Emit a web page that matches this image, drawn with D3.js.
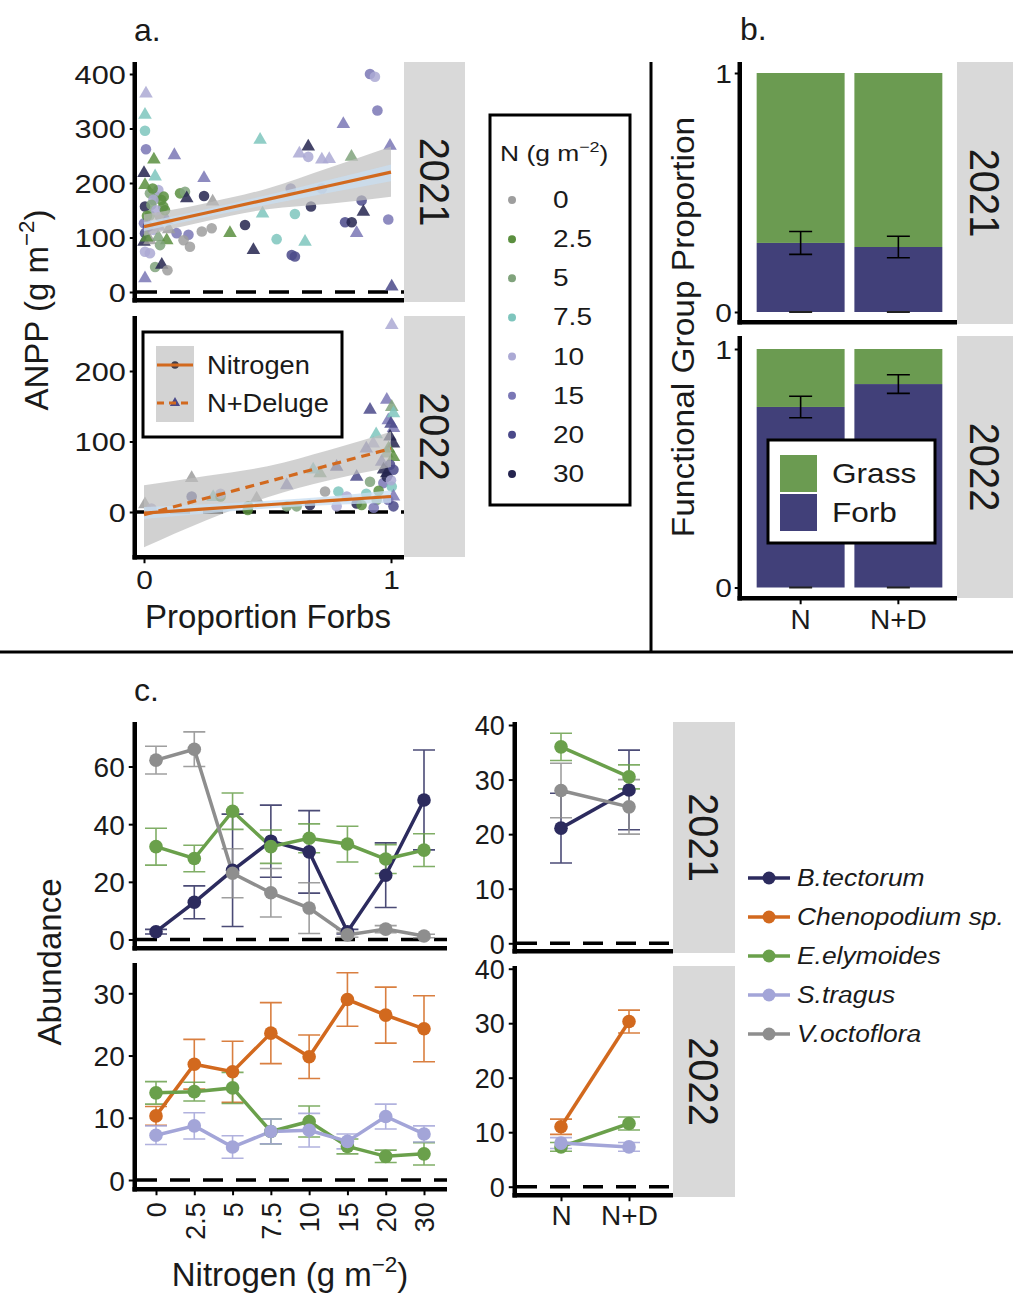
<!DOCTYPE html>
<html><head><meta charset="utf-8">
<script src="https://cdn.jsdelivr.net/npm/d3@7"></script>
<style>
html,body{margin:0;padding:0;background:#fff;}
svg{display:block;font-family:"Liberation Sans",Arial,sans-serif;}
</style></head><body>
<svg id="fig" width="1013" height="1293"></svg>
<script>
// ================= data =================
// nitrogen addition levels (g m-2) and their colours
const nLevels = ['0', '2.5', '5', '7.5', '10', '15', '20', '30'];
const nColours = ['#9e9e9e', '#5b8f3f', '#80a37c', '#7ec5bd', '#aba9d4', '#7a77b5', '#4a4989', '#25244f'];

// ANPP against proportion of forbs: [proportion forbs, ANPP, N level, treatment]
// treatment 'N' = Nitrogen (circle), 'D' = N+Deluge (triangle)
const anpp2021 = [
  [0.008,364,'10','D'],[0.004,325,'7.5','D'],[0.004,296,'7.5','N'],[0.008,262,'15','N'],
  [0.123,251,'15','D'],[0.040,243,'2.5','D'],[0.000,218,'30','D'],[0.045,212,'7.5','D'],
  [0.004,196,'2.5','D'],[0.243,209,'15','D'],[0.146,181,'2.5','N'],[0.166,184,'5','N'],
  [0.173,172,'30','D'],[0.243,176,'30','N'],[0.278,166,'0','D'],[0.004,157,'30','N'],
  [0.024,181,'5','N'],[0.050,175,'5','N'],[0.070,169,'2.5','N'],[0.078,157,'2.5','N'],
  [0.038,169,'10','N'],[0.058,187,'10','N'],[0.024,141,'5','N'],[0.000,126,'15','N'],
  [0.065,138,'0','N'],[0.092,132,'15','D'],[0.004,108,'20','N'],[0.038,114,'10','N'],
  [0.000,92,'30','D'],[0.024,95,'0','D'],[0.058,101,'5','D'],[0.092,95,'2.5','D'],
  [0.132,108,'15','N'],[0.180,105,'15','N'],[0.160,95,'0','N'],[0.186,83,'0','N'],
  [0.234,111,'0','N'],[0.274,117,'0','N'],[0.348,108,'2.5','D'],[0.409,123,'30','N'],
  [0.443,77,'30','D'],[0.470,279,'7.5','D'],[0.480,144,'7.5','D'],[0.004,74,'10','N'],
  [0.024,71,'10','N'],[0.045,46,'5','N'],[0.072,50,'30','D'],[0.095,40,'0','N'],
  [0.004,25,'15','D'],[0.016,120,'20','N'],[0.065,86,'5','N'],[0.012,140,'2.5','N'],
  [0.030,160,'5','N'],[0.050,150,'10','N'],[0.085,150,'2.5','N'],[0.020,120,'15','D'],
  [0.060,120,'10','D'],[0.100,115,'0','D'],[0.010,100,'2.5','D'],[0.035,190,'2.5','N'],
  [0.080,175,'2.5','N'],
  [0.915,400,'15','N'],[0.935,395,'10','N'],[0.945,333,'15','N'],[0.807,308,'15','D'],
  [0.665,267,'30','D'],[0.629,254,'10','D'],[0.665,248,'10','N'],[0.720,243,'10','D'],
  [0.750,244,'10','D'],[0.840,248,'5','D'],[0.996,268,'15','D'],[0.594,190,'15','N'],
  [0.720,190,'15','N'],[0.676,157,'30','N'],[0.611,143,'7.5','N'],[0.881,168,'20','N'],
  [0.888,147,'30','D'],[0.814,128,'20','N'],[0.841,128,'30','N'],[0.861,108,'15','D'],
  [0.989,133,'15','N'],[0.537,97,'7.5','N'],[0.652,92,'7.5','D'],[0.598,68,'20','N'],
  [0.611,65,'20','N'],[1.003,10,'20','D']
];
const anpp2022 = [
  [1.003,265,'10','D'],[0.983,159,'15','D'],[0.915,145,'20','D'],[1.003,149,'5','D'],
  [0.989,130,'15','D'],[1.010,140,'7.5','D'],[1.010,119,'15','D'],[0.996,107,'30','D'],
  [1.010,97,'30','D'],[0.928,97,'10','D'],[0.900,90,'15','D'],[0.983,83,'5','D'],
  [1.010,78,'2.5','D'],[0.962,71,'15','D'],[0.996,67,'20','N'],[0.983,55,'30','D'],
  [1.010,60,'20','N'],[0.861,50,'20','D'],[0.915,43,'5','N'],[0.969,41,'15','N'],
  [1.003,36,'7.5','N'],[0.713,55,'5','D'],[0.780,64,'20','D'],[0.685,60,'7.5','D'],
  [0.578,38,'15','D'],[0.733,29,'0','N'],[0.787,29,'7.5','N'],[0.821,22,'10','N'],
  [0.900,26,'7.5','N'],[0.942,17,'5','N'],[0.989,17,'15','N'],[1.010,8,'20','N'],
  [0.861,12,'30','N'],[0.881,10,'2.5','N'],[0.672,10,'30','N'],[0.618,8,'5','N'],
  [0.780,8,'10','N'],[0.456,19,'0','D'],[0.422,8,'2.5','N'],[0.193,22,'20','N'],
  [0.193,48,'0','D'],[0.004,11,'0','D'],[0.030,5,'10','N'],[0.578,8,'5','N'],
  [0.930,6,'15','N'],[1.010,22,'15','D'],[0.983,50,'30','N'],[0.280,21,'7.5','D'],
  [0.310,22,'2.5','N'],[0.310,26,'10','N'],[0.420,3,'2.5','N'],[0.950,30,'2.5','N'],
  [1.000,45,'10','N'],[0.970,60,'30','D'],[0.940,110,'7.5','D'],[1.000,125,'20','D'],
  [0.990,90,'2.5','D']
];

// fitted regressions with confidence bands, evaluated along proportion forbs
const fitX = [0, 0.25, 0.5, 0.75, 1];
const fit2021 = [120, 145, 170, 195, 220];
const band2021Lo = [103, 130, 152, 162, 175];
const band2021Hi = [142, 163, 190, 228, 267];
const inner2021Lo = [112, 137, 160, 182, 203];
const inner2021Hi = [128, 152, 178, 206, 234];
const fit2022N = [-1.5, 4.4, 10.3, 16.1, 22];
const fit2022D = [-4, 19.5, 43, 66.5, 90];
const band2022DLo = [-50, -12, 21, 45, 64];
const band2022DHi = [38, 51, 65, 88, 114];
const band2022NLo = [-10, -2, 5, 10, 13];
const band2022NHi = [7, 11, 16, 22, 31];

// functional group proportions (forb share, with SE); grass = 1 - forb
const treatments = ['N', 'N+D'];
const groupNames = ['Grass', 'Forb'];
const groupColours = ['#6b9b51', '#414079'];
const forb2021 = [0.289, 0.272];
const forbSe2021 = [0.048, 0.045];
const forb2022 = [0.757, 0.853];
const forbSe2022 = [0.045, 0.039];

// species abundance along the nitrogen gradient
const speciesNames = ['B.tectorum', 'Chenopodium sp.', 'E.elymoides', 'S.tragus', 'V.octoflora'];
const speciesColours = ['#2c2b5e', '#d2691e', '#6aa04b', '#a3a5d8', '#8e8e8e'];
const bTect2021 = [2.7, 12.9, 24.0, 34.1, 30.4, 2.7, 22.3, 48.4];
const bTectSe2021 = [0.8, 5.7, 19.5, 12.5, 14.3, 0.8, 11.2, 17.3];
const eElym2021 = [32.2, 28.1, 44.5, 32.2, 35.1, 33.1, 27.9, 31.0];
const eElymSe2021 = [6.4, 4.6, 6.3, 5.8, 5.0, 6.2, 5.0, 5.7];
const vOcto2021 = [62.2, 66.0, 23.0, 16.2, 10.9, 1.6, 3.6, 1.2];
const vOctoSe2021 = [4.8, 6.0, 8.5, 8.4, 8.8, 0.8, 1.2, 0.6];
const chen2022 = [10.3, 18.6, 17.4, 23.6, 19.8, 29.0, 26.5, 24.3];
const chenSe2022 = [1.5, 4.0, 4.9, 4.9, 3.5, 4.3, 4.5, 5.3];
const eElym2022 = [14.0, 14.2, 14.8, 7.8, 9.4, 5.4, 3.8, 4.2];
const eElymSe2022 = [1.8, 1.5, 2.5, 2.0, 2.5, 1.2, 1.0, 1.8];
const sTrag2022 = [7.2, 8.7, 5.3, 7.8, 8.0, 6.2, 10.2, 7.4];
const sTragSe2022 = [1.5, 2.1, 1.8, 2.0, 2.7, 1.2, 2.0, 1.3];

// species abundance by watering treatment
const bTectTrt2021 = [21.1, 28.1], bTectTrtSe2021 = [6.4, 7.3];
const eElymTrt2021 = [36.0, 30.5], eElymTrtSe2021 = [2.5, 2.2];
const vOctoTrt2021 = [28.0, 25.0], vOctoTrtSe2021 = [5.0, 5.0];
const chenTrt2022 = [11.0, 30.3], chenTrtSe2022 = [1.4, 2.1];
const eElymTrt2022 = [7.3, 11.6], eElymTrtSe2022 = [0.8, 1.2];
const sTragTrt2022 = [8.0, 7.3], sTragTrtSe2022 = [1.0, 0.8];

// ================= helpers =================
const svg = d3.select('#fig');
const INK = '#1a1a1a';
const AXW = 4.5;
const plainFmt = d3.format('~g');

function txt(g, x, y, s, o = {}) {
  const t = g.append('text')
    .attr('transform', `translate(${x},${y}) rotate(${o.rot || 0}) scale(${o.k || 1},1)`)
    .attr('font-size', o.size || 20)
    .attr('text-anchor', o.anchor || 'middle')
    .attr('fill', o.fill || INK);
  if (o.italic) t.attr('font-style', 'italic');
  if (o.mid) t.attr('dy', '0.35em');
  if (s !== null) t.text(s);
  return t;
}
function unitTxt(g, x, y, pre, sup, post, o) {
  const t = txt(g, x, y, null, o);
  t.append('tspan').text(pre);
  t.append('tspan').attr('font-size', o.size * 0.68).attr('dy', -o.size * 0.42).text(sup);
  t.append('tspan').attr('dy', o.size * 0.42).text(post);
  return t;
}
function styleAxis(a) {
  a.attr('font-size', null).attr('font-family', null);
  a.select('.domain').remove();
  a.selectAll('.tick line').attr('stroke', '#000').attr('stroke-width', 2);
}
function yAxis(g, scale, ticks, x, o) {
  const ts = o.ts ?? 5, pad = o.pad ?? 4, k = o.k ?? 1;
  const a = g.append('g').attr('transform', `translate(${x - AXW / 2},0)`)
    .call(d3.axisLeft(scale).tickValues(ticks).tickSize(ts).tickPadding(pad).tickFormat(plainFmt));
  styleAxis(a);
  a.selectAll('.tick text').attr('x', null).attr('dy', '0.36em')
    .attr('transform', `translate(${-(ts + pad)},0) scale(${k},1)`)
    .attr('font-size', o.size).attr('fill', INK);
}
function xAxis(g, scale, ticks, y, o) {
  const ts = o.ts ?? 6, pad = o.pad ?? 5, k = o.k ?? 1;
  const a = g.append('g').attr('transform', `translate(0,${y + AXW / 2})`)
    .call(d3.axisBottom(scale).tickValues(ticks).tickSize(ts).tickPadding(pad).tickFormat(plainFmt));
  styleAxis(a);
  a.selectAll('.tick text').attr('y', null).attr('font-size', o.size).attr('fill', INK)
    .attr('dy', '0.72em').attr('transform', `translate(0,${ts + pad}) scale(${k},1)`);
}
function axisLines(g, left, right, top, bottom) {
  g.append('line').attr('x1', left - AXW / 2).attr('x2', left - AXW / 2)
    .attr('y1', top).attr('y2', bottom + AXW).attr('stroke', '#000').attr('stroke-width', AXW);
  g.append('line').attr('x1', left - AXW).attr('x2', right)
    .attr('y1', bottom + AXW / 2).attr('y2', bottom + AXW / 2).attr('stroke', '#000').attr('stroke-width', AXW);
}
function strip(g, x0, x1, y0, y1, label) {
  g.append('rect').attr('x', x0).attr('y', y0).attr('width', x1 - x0).attr('height', y1 - y0).attr('fill', '#d9d9d9');
  txt(g, (x0 + x1) / 2, (y0 + y1) / 2, label, { size: 42, rot: 90, k: 0.95, mid: true });
}
function zeroLine(g, scale, left, right) {
  g.append('line').attr('x1', left).attr('x2', right).attr('y1', scale(0)).attr('y2', scale(0))
    .attr('stroke', '#000').attr('stroke-width', 3.5).attr('stroke-dasharray', '20 13');
}
let clipId = 0;
function clipRect(x0, x1, y0, y1) {
  const id = 'clip' + (clipId++);
  svg.append('clipPath').attr('id', id).append('rect')
    .attr('x', x0).attr('y', y0).attr('width', x1 - x0).attr('height', y1 - y0);
  return `url(#${id})`;
}

// ================= a. ANPP vs proportion forbs =================
const gA = svg.append('g');
txt(gA, 134, 41, 'a.', { size: 32, anchor: 'start' });
const propX = d3.scaleLinear().domain([0, 1]).range([144, 391]);
const nColour = d3.scaleOrdinal(nLevels, nColours);
const circleShape = d3.symbol().type(d3.symbolCircle).size(88);
const triShape = d3.symbol().type(d3.symbolTriangle).size(80);
const keyCircle = d3.symbol().type(d3.symbolCircle).size(45);
const keyTri = d3.symbol().type(d3.symbolTriangle).size(45);

const aPanels = [
  { year: '2021', top: 62, bottom: 298, stripB: 302, y: d3.scaleLinear().domain([0, 400]).range([292, 74]),
    ticks: [0, 100, 200, 300, 400], pts: anpp2021,
    bands: [[band2021Lo, band2021Hi, '#bdbdbd', 0.7], [inner2021Lo, inner2021Hi, '#c8def0', 0.75]],
    fits: [[fit2021, null]] },
  { year: '2022', top: 316, bottom: 555, stripB: 557, y: d3.scaleLinear().domain([0, 200]).range([512, 371]),
    ticks: [0, 100, 200], pts: anpp2022,
    bands: [[band2022DLo, band2022DHi, '#bdbdbd', 0.7], [band2022NLo, band2022NHi, '#c8def0', 0.75]],
    fits: [[fit2022D, '9 6'], [fit2022N, null]] }
];
aPanels.forEach(p => {
  const g = gA.append('g');
  const inner = g.append('g').attr('clip-path', clipRect(137, 404, p.top, p.bottom));
  zeroLine(inner, p.y, 137, 404);
  inner.selectAll('path.pt').data(p.pts).join('path')
    .attr('transform', d => `translate(${propX(d[0])},${p.y(d[1])})`)
    .attr('d', d => d[3] === 'N' ? circleShape() : triShape())
    .attr('fill', d => nColour(d[2])).attr('fill-opacity', 0.85);
  p.bands.forEach(([lo, hi, col, op]) => {
    const area = d3.area().x((d, i) => propX(fitX[i])).y0((d, i) => p.y(lo[i])).y1((d, i) => p.y(hi[i]))
      .curve(d3.curveMonotoneX);
    inner.append('path').attr('d', area(fitX)).attr('fill', col).attr('fill-opacity', op);
  });
  p.fits.forEach(([vals, dash]) => {
    const line = d3.line().x((d, i) => propX(fitX[i])).y(d => p.y(d));
    inner.append('path').attr('d', line(vals)).attr('fill', 'none').attr('stroke', '#d2691e')
      .attr('stroke-width', 3.2).attr('stroke-dasharray', dash);
  });
  axisLines(g, 137, 404, p.top, p.bottom);
  yAxis(g, p.y, p.ticks, 137, { size: 26, k: 1.18, ts: 5, pad: 4 });
  strip(g, 404, 465, p.top, p.stripB, p.year);
});
xAxis(gA, propX, [0, 1], 555, { size: 26, k: 1.15, ts: 6, pad: 7 });
txt(gA, 268, 628, 'Proportion Forbs', { size: 33 });
unitTxt(gA, 48, 310, 'ANPP (g m', '\u22122', ')', { size: 33, rot: -90 });

// line legend (treatments)
const lg = gA.append('g');
lg.append('rect').attr('x', 143).attr('y', 332).attr('width', 199).attr('height', 105)
  .attr('fill', '#fff').attr('stroke', '#000').attr('stroke-width', 3);
[['Nitrogen', null, keyCircle, '#3e3e4e'], ['N+Deluge', '7 5', keyTri, '#4a4989']].forEach((d, i) => {
  const cy = 365 + i * 38;
  lg.append('rect').attr('x', 156).attr('y', cy - 19).attr('width', 38).attr('height', 38).attr('fill', '#d3d3d3');
  lg.append('path').attr('d', d[2]()).attr('transform', `translate(175,${cy})`).attr('fill', d[3]);
  lg.append('line').attr('x1', 157).attr('x2', 193).attr('y1', cy).attr('y2', cy)
    .attr('stroke', '#d2691e').attr('stroke-width', 3.2).attr('stroke-dasharray', d[1]);
  txt(lg, 207, cy, d[0], { size: 25, anchor: 'start', k: 1.09, mid: true });
});

// nitrogen level legend
const ng = gA.append('g');
ng.append('rect').attr('x', 490).attr('y', 115).attr('width', 140).attr('height', 390)
  .attr('fill', '#fff').attr('stroke', '#000').attr('stroke-width', 3);
unitTxt(ng, 500, 161, 'N (g m', '\u22122', ')', { size: 22, anchor: 'start', k: 1.2 });
const legY = d3.scalePoint().domain(nLevels).range([200, 474]);
nLevels.forEach(n => {
  ng.append('circle').attr('cx', 512).attr('cy', legY(n)).attr('r', 4).attr('fill', nColour(n));
  txt(ng, 553, legY(n), n, { size: 23, anchor: 'start', k: 1.22, mid: true });
});

// ================= dividers =================
svg.append('line').attr('x1', 651).attr('x2', 651).attr('y1', 62).attr('y2', 653)
  .attr('stroke', '#000').attr('stroke-width', 3);
svg.append('line').attr('x1', 0).attr('x2', 1013).attr('y1', 652).attr('y2', 652)
  .attr('stroke', '#000').attr('stroke-width', 3);

// ================= b. functional group proportions =================
const gB = svg.append('g');
txt(gB, 740, 40, 'b.', { size: 32, anchor: 'start' });
const trtX = d3.scaleBand().domain(treatments).range([742, 957]).paddingInner(0.1).paddingOuter(0.15);
const groupColour = d3.scaleOrdinal(groupNames, groupColours);
const bPanels = [
  { year: '2021', top: 62, bottom: 320, stripB: 324, y: d3.scaleLinear().domain([0, 1]).range([312, 73]), forb: forb2021, se: forbSe2021 },
  { year: '2022', top: 336, bottom: 596, stripB: 598, y: d3.scaleLinear().domain([0, 1]).range([587.5, 349]), forb: forb2022, se: forbSe2022 }
];
bPanels.forEach(p => {
  const g = gB.append('g');
  const stacks = treatments.map((t, i) => ({ t, forb: p.forb[i], se: p.se[i] }));
  // forb at the base, grass stacked above
  g.selectAll('rect.forb').data(stacks).join('rect')
    .attr('x', d => trtX(d.t)).attr('width', trtX.bandwidth())
    .attr('y', d => p.y(d.forb)).attr('height', d => p.y(0) - p.y(d.forb)).attr('fill', groupColour('Forb'));
  g.selectAll('rect.grass').data(stacks).join('rect')
    .attr('x', d => trtX(d.t)).attr('width', trtX.bandwidth())
    .attr('y', d => p.y(1)).attr('height', d => p.y(d.forb) - p.y(1)).attr('fill', groupColour('Grass'));
  const cap = 11.5;
  stacks.forEach(d => {
    const cx = trtX(d.t) + trtX.bandwidth() / 2;
    const y0 = p.y(d.forb - d.se), y1 = p.y(d.forb + d.se);
    g.append('path').attr('d', `M${cx - cap},${y1}H${cx + cap}M${cx},${y1}V${y0}M${cx - cap},${y0}H${cx + cap}`)
      .attr('stroke', '#000').attr('stroke-width', 1.6).attr('fill', 'none');
    // collapsed error bar of the base layer
    g.append('line').attr('x1', cx - cap).attr('x2', cx + cap).attr('y1', p.y(0)).attr('y2', p.y(0))
      .attr('stroke', '#222').attr('stroke-width', 2);
  });
  axisLines(g, 742, 957, p.top, p.bottom);
  yAxis(g, p.y, [0, 1], 742, { size: 26, k: 1.15, ts: 5, pad: 3 });
  strip(g, 957, 1013, p.top, p.stripB, p.year);
});
{
  const a = gB.append('g').attr('transform', `translate(0,${596 + AXW / 2})`)
    .call(d3.axisBottom(trtX).tickSize(6).tickPadding(6));
  styleAxis(a);
  a.selectAll('.tick text').attr('y', null).attr('dy', '0.72em').attr('font-size', 28).attr('fill', INK)
    .attr('transform', 'translate(0,11)');
}
txt(gB, 694, 327, 'Functional Group Proportion', { size: 31, rot: -90, k: 1.08 });
{
  const g = gB.append('g');
  g.append('rect').attr('x', 768).attr('y', 440).attr('width', 167).attr('height', 103)
    .attr('fill', '#fff').attr('stroke', '#000').attr('stroke-width', 3);
  groupNames.forEach((n, i) => {
    const y0 = 455 + i * 39;
    g.append('rect').attr('x', 780).attr('y', y0).attr('width', 37).attr('height', 37).attr('fill', groupColour(n));
    txt(g, 832, y0 + 18.5, n, { size: 27, anchor: 'start', k: 1.17, mid: true });
  });
}

// ================= c. species abundance =================
const gC = svg.append('g');
txt(gC, 134, 701, 'c.', { size: 32, anchor: 'start' });
const speciesColour = d3.scaleOrdinal(speciesNames, speciesColours);
const nX = d3.scalePoint().domain(nLevels).range([156, 424]);
const tX = d3.scalePoint().domain(treatments).range([561, 629]);

function seriesPanel(g, xs, cats, y, series, left, right, top, bottom) {
  const inner = g.append('g');
  zeroLine(inner, y, left, right);
  const cap = 11;
  series.forEach(s => {
    const col = speciesColour(s.sp);
    s.mean.forEach((m, i) => {
      const cx = xs(cats[i]), y0 = y(m - s.se[i]), y1 = y(m + s.se[i]);
      inner.append('path').attr('d', `M${cx - cap},${y1}H${cx + cap}M${cx},${y1}V${y0}M${cx - cap},${y0}H${cx + cap}`)
        .attr('stroke', col).attr('stroke-width', 1.6).attr('fill', 'none').attr('stroke-opacity', 0.85);
    });
  });
  series.forEach(s => {
    const line = d3.line().x((d, i) => xs(cats[i])).y(d => y(d));
    inner.append('path').attr('d', line(s.mean)).attr('fill', 'none')
      .attr('stroke', speciesColour(s.sp)).attr('stroke-width', 3.5);
  });
  series.forEach(s => {
    inner.selectAll(null).data(s.mean).join('circle')
      .attr('cx', (d, i) => xs(cats[i])).attr('cy', d => y(d)).attr('r', 6.8)
      .attr('fill', speciesColour(s.sp));
  });
  axisLines(g, left, right, top, bottom);
}

const cLeft21 = d3.scaleLinear().domain([0, 60]).range([939.5, 766.5]);
const cLeft22 = d3.scaleLinear().domain([0, 30]).range([1180, 993.3]);
const cRight21 = d3.scaleLinear().domain([0, 40]).range([943.3, 725]);
const cRight22 = d3.scaleLinear().domain([0, 40]).range([1186.7, 968.7]);

seriesPanel(gC, nX, nLevels, cLeft21, [
  { sp: 'B.tectorum', mean: bTect2021, se: bTectSe2021 },
  { sp: 'E.elymoides', mean: eElym2021, se: eElymSe2021 },
  { sp: 'V.octoflora', mean: vOcto2021, se: vOctoSe2021 }
], 137, 447, 722, 946);
yAxis(gC, cLeft21, [0, 20, 40, 60], 137, { size: 28, ts: 6, pad: 4 });

seriesPanel(gC, nX, nLevels, cLeft22, [
  { sp: 'Chenopodium sp.', mean: chen2022, se: chenSe2022 },
  { sp: 'E.elymoides', mean: eElym2022, se: eElymSe2022 },
  { sp: 'S.tragus', mean: sTrag2022, se: sTragSe2022 }
], 137, 447, 963, 1187);
yAxis(gC, cLeft22, [0, 10, 20, 30], 137, { size: 28, ts: 6, pad: 4 });
{
  const a = gC.append('g').attr('transform', `translate(0,${1187 + AXW / 2})`)
    .call(d3.axisBottom(nX).tickSize(6).tickPadding(5));
  styleAxis(a);
  a.selectAll('.tick text').attr('y', null).attr('dy', '0.36em').attr('text-anchor', 'end')
    .attr('font-size', 27).attr('fill', INK).attr('transform', 'translate(0,13) rotate(-90)');
}

seriesPanel(gC, tX, treatments, cRight21, [
  { sp: 'B.tectorum', mean: bTectTrt2021, se: bTectTrtSe2021 },
  { sp: 'E.elymoides', mean: eElymTrt2021, se: eElymTrtSe2021 },
  { sp: 'V.octoflora', mean: vOctoTrt2021, se: vOctoTrtSe2021 }
], 517, 673, 722, 949);
yAxis(gC, cRight21, [0, 10, 20, 30, 40], 517, { size: 27, ts: 6, pad: 4 });
strip(gC, 673, 735, 722, 953, '2021');

seriesPanel(gC, tX, treatments, cRight22, [
  { sp: 'Chenopodium sp.', mean: chenTrt2022, se: chenTrtSe2022 },
  { sp: 'E.elymoides', mean: eElymTrt2022, se: eElymTrtSe2022 },
  { sp: 'S.tragus', mean: sTragTrt2022, se: sTragTrtSe2022 }
], 517, 673, 966, 1193);
yAxis(gC, cRight22, [0, 10, 20, 30, 40], 517, { size: 27, ts: 6, pad: 4 });
strip(gC, 673, 735, 966, 1197, '2022');
{
  const a = gC.append('g').attr('transform', `translate(0,${1193 + AXW / 2})`)
    .call(d3.axisBottom(tX).tickSize(6).tickPadding(6));
  styleAxis(a);
  a.selectAll('.tick text').attr('y', null).attr('dy', '0.72em').attr('font-size', 28).attr('fill', INK)
    .attr('transform', 'translate(0,10)');
}

unitTxt(gC, 290, 1286, 'Nitrogen (g m', '\u22122', ')', { size: 33 });
txt(gC, 61, 962, 'Abundance', { size: 33, rot: -90 });

// species legend
{
  const g = gC.append('g');
  const ly = d3.scalePoint().domain(speciesNames).range([878, 1034]);
  speciesNames.forEach(n => {
    g.append('line').attr('x1', 748).attr('x2', 790).attr('y1', ly(n)).attr('y2', ly(n))
      .attr('stroke', speciesColour(n)).attr('stroke-width', 3.5);
    g.append('circle').attr('cx', 769).attr('cy', ly(n)).attr('r', 6.5).attr('fill', speciesColour(n));
    txt(g, 797, ly(n), n, { size: 24, anchor: 'start', italic: true, k: 1.1, mid: true });
  });
}
</script>
</body></html>
